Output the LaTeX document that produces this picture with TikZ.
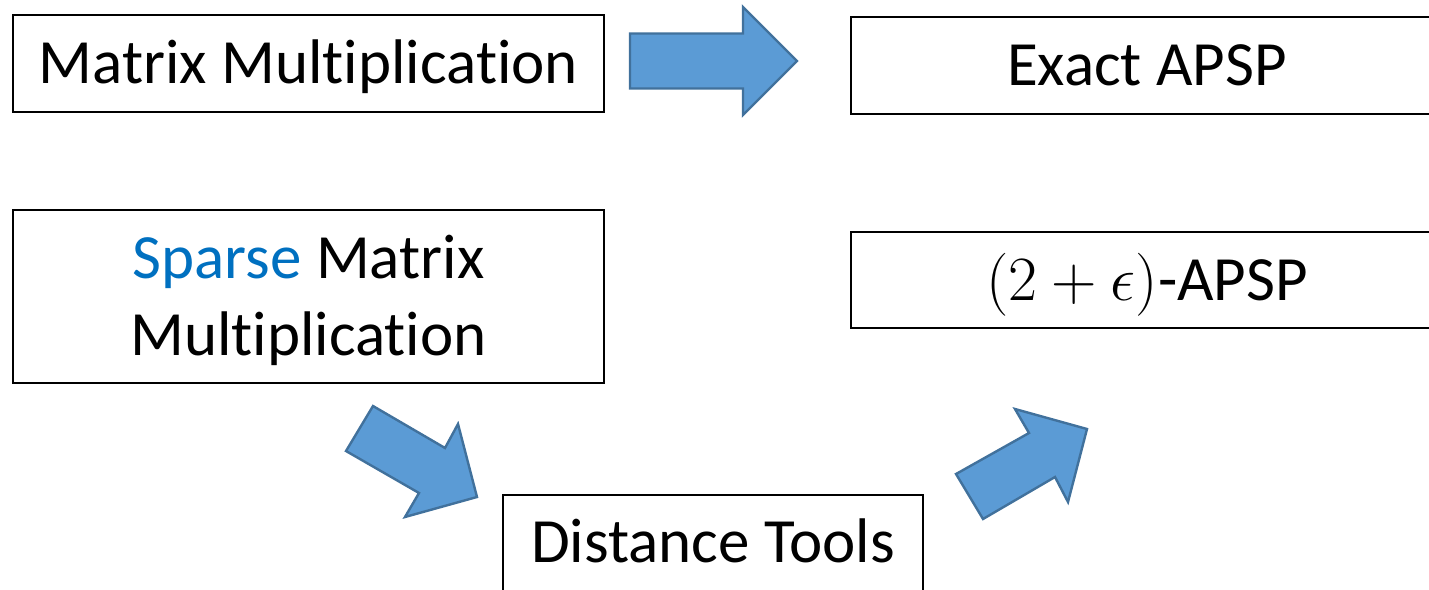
\RequirePackage{fix-cm}
\documentclass[tikz,border=0pt]{standalone}
\usepackage{fontspec}
\setmainfont{Carlito}[Ligatures=NoCommon]
\definecolor{arrowfill}{HTML}{5B9BD5}
\definecolor{arrowline}{HTML}{41719C}
\definecolor{sparseblue}{HTML}{0070C0}
\newcommand{\boxfont}{\fontsize{31.5}{38.5}\selectfont}
\tikzset{
  box/.style={draw=black, line width=1pt, fill=white, inner sep=0pt,
    font=\boxfont, text height=20.3pt, text depth=0pt},
  lines/.style={inner sep=0pt, font=\boxfont, align=center},
  label/.style={inner sep=0pt, font=\boxfont, text height=20.3pt, text depth=0pt},
  blockarrow/.style={fill=arrowfill, draw=arrowline, line width=1.2pt, line join=miter}
}
\begin{document}
\begin{tikzpicture}[x=0.5pt, y=-0.5pt]
\useasboundingbox (0,0) rectangle (1429,589);
\clip (0,0) rectangle (1429,589);

% top row
\node[box, minimum width=295.5pt, minimum height=48.5pt] (mm) at (308.5,63.5) {Matrix Multiplication};
\node[box, minimum width=296pt, minimum height=48.5pt] (exact) at (1147,65.5) {Exact APSP};

% second row
\node[box, minimum width=295.5pt, minimum height=86.5pt] (smm) at (308.5,296.5) {};
\node[lines] (smmtext) at (308.5,300) {\textcolor{sparseblue}{Sparse} Matrix\\Multiplication};
\node[box, minimum width=296pt, minimum height=48pt] (apx) at (1147,280) {$(2+\epsilon)$-APSP};

% bottom box, running past the lower edge
\node[box, anchor=north, minimum width=210pt, minimum height=60pt] (dt) at (713,494) {};
\node[label] (dtlabel) at (713,542.5) {Distance Tools};

% block arrows
\draw[blockarrow] (630,33.5) -- (743,33.5) -- (743,7) -- (797,61)
  -- (743,115) -- (743,88.5) -- (630,88.5) -- cycle;
\draw[blockarrow] (373,406) -- (445,448) -- (458,424) -- (477,497)
  -- (405,517) -- (419,493) -- (346,451) -- cycle;
\draw[blockarrow] (956,474) -- (1029,433) -- (1015,409) -- (1087,429)
  -- (1068,502) -- (1055,477) -- (983,519) -- cycle;
\end{tikzpicture}
\end{document}
